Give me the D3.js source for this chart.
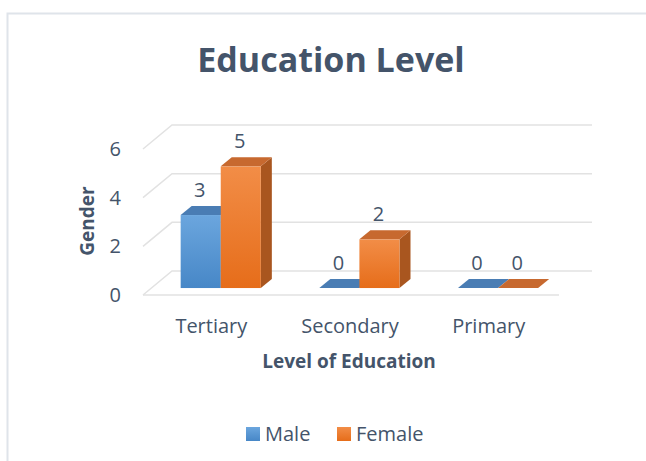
<!DOCTYPE html>
<html>
<head>
<meta charset="utf-8">
<script src="https://cdnjs.cloudflare.com/ajax/libs/d3/7.8.5/d3.min.js"></script>
<style>
  html, body { margin: 0; padding: 0; background: #fff; }
  text { font-family: "Open Sans", "DejaVu Sans", sans-serif; fill: #44546a; }
</style>
</head>
<body>
<div id="container"></div>
<script>
// chart data
const categories = ["Tertiary", "Secondary", "Primary"];
const series = ["Male", "Female"];
const maleValues = [3, 0, 0];
const femaleValues = [5, 2, 0];
const yTicks = [0, 2, 4, 6];

const W = 646, H = 461;
const depthX = 29, depthY = 24;     // offset of the back wall from the front edge
const barZ0 = 0.29, barZ1 = 0.67;   // bar front / back depth

const faces = {
  Male:   { top0: "#6ba6de", bot0: "#4787c7", top: "#4a7db4", side: "#3b6a9c" },
  Female: { top0: "#f28d47", bot0: "#e66d1a", top: "#c7692f", side: "#a9561f" }
};

const svg = d3.select("#container").append("svg")
  .attr("width", W).attr("height", H);

// frame
svg.append("rect")
  .attr("x", 7.5).attr("y", 13.5)
  .attr("width", W + 20).attr("height", H + 20)
  .attr("fill", "#fff").attr("stroke", "#dfe4ea").attr("stroke-width", 2);

// gradients for the bar fronts
const defs = svg.append("defs");
series.forEach(s => {
  const g = defs.append("linearGradient").attr("id", "grad" + s)
    .attr("x1", 0).attr("y1", 0).attr("x2", 0).attr("y2", 1);
  g.append("stop").attr("offset", "0%").attr("stop-color", faces[s].top0);
  g.append("stop").attr("offset", "100%").attr("stop-color", faces[s].bot0);
});

// scales (front plane)
const x0 = d3.scaleBand().domain(categories).range([143, 559]);
const x1 = d3.scaleBand().domain(series).range([0, x0.bandwidth()]).paddingOuter(0.73);
const y = d3.scaleLinear().domain([0, 6]).range([295, 149]);

const proj = (px, py, z) => [px + z * depthX, py - z * depthY];
const poly = pts => pts.map(p => p.join(",")).join(" ");

// title
svg.append("text")
  .attr("x", 331).attr("y", 72)
  .attr("text-anchor", "middle")
  .attr("font-size", 34).attr("font-weight", "bold")
  .text("Education Level");

// gridlines on side wall + back wall
const grid = svg.append("g").attr("class", "grid");
grid.selectAll("polyline")
  .data(yTicks)
  .enter()
  .append("polyline")
  .attr("points", d => poly([proj(143, y(d), 0), proj(143, y(d), 1), [592, y(d) - depthY]]))
  .attr("fill", "none")
  .attr("stroke", "#e2e2e2")
  .attr("stroke-width", 1.5);

// floor front edge
grid.append("line")
  .attr("x1", 143).attr("x2", 559)
  .attr("y1", y(0)).attr("y2", y(0))
  .attr("stroke", "#e2e2e2").attr("stroke-width", 1.5);

// y tick labels
svg.append("g").selectAll("text")
  .data(yTicks)
  .enter()
  .append("text")
  .attr("x", 121)
  .attr("y", d => y(d))
  .attr("dy", "0.35em")
  .attr("text-anchor", "end")
  .attr("font-size", 20)
  .text(d => d);

// bars
const rows = [];
categories.forEach((c, i) => {
  rows.push({ cat: c, s: "Male", v: maleValues[i] });
  rows.push({ cat: c, s: "Female", v: femaleValues[i] });
});

const bars = svg.append("g").attr("class", "bars");
rows.forEach(d => {
  const xl = x0(d.cat) + x1(d.s);
  const xr = xl + x1.bandwidth();
  const yt = y(d.v), yb = y(0);
  const g = bars.append("g");
  if (d.v > 0) {
    // right side
    g.append("polygon")
      .attr("points", poly([proj(xr, yt, barZ0), proj(xr, yt, barZ1), proj(xr, yb, barZ1), proj(xr, yb, barZ0)]))
      .attr("fill", faces[d.s].side);
    // front
    const p = proj(xl, yt, barZ0);
    g.append("rect")
      .attr("x", p[0]).attr("y", p[1])
      .attr("width", xr - xl).attr("height", yb - yt)
      .attr("fill", "url(#grad" + d.s + ")");
  }
  // top
  g.append("polygon")
    .attr("points", poly([proj(xl, yt, barZ0), proj(xr, yt, barZ0), proj(xr, yt, barZ1), proj(xl, yt, barZ1)]))
    .attr("fill", faces[d.s].top);
});

// data labels
svg.append("g").selectAll("text")
  .data(rows)
  .enter()
  .append("text")
  .attr("x", d => proj(x0(d.cat) + x1(d.s) + x1.bandwidth() / 2, 0, barZ0)[0] - 1)
  .attr("y", d => proj(0, y(d.v), barZ0)[1] - 18)
  .attr("text-anchor", "middle")
  .attr("font-size", 20)
  .text(d => d.v);

// category labels
svg.append("g").selectAll("text")
  .data(categories)
  .enter()
  .append("text")
  .attr("x", d => x0(d) + x0.bandwidth() / 2 - 1)
  .attr("y", 333)
  .attr("text-anchor", "middle")
  .attr("font-size", 20)
  .text(d => d);

// axis titles
svg.append("text")
  .attr("x", 349).attr("y", 368)
  .attr("text-anchor", "middle")
  .attr("font-size", 19).attr("font-weight", "bold")
  .text("Level of Education");

svg.append("text")
  .attr("transform", "translate(94,221) rotate(-90)")
  .attr("text-anchor", "middle")
  .attr("font-size", 19).attr("font-weight", "bold")
  .text("Gender");

// legend
const legend = svg.append("g").attr("class", "legend");
const legendX = [246, 337];
series.forEach((s, i) => {
  legend.append("rect")
    .attr("x", legendX[i]).attr("y", 427)
    .attr("width", 14).attr("height", 14)
    .attr("fill", "url(#grad" + s + ")");
  legend.append("text")
    .attr("x", legendX[i] + 19).attr("y", 441)
    .attr("font-size", 20)
    .text(s);
});
</script>
</body>
</html>
